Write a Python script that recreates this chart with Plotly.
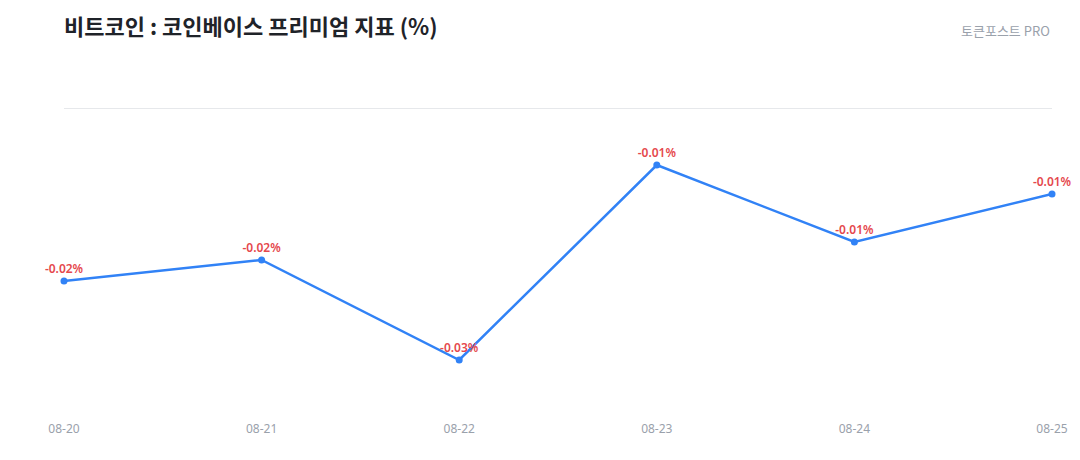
import plotly.graph_objects as go

# 코인베이스 프리미엄 (%) - 라벨은 소수 둘째 자리로 반올림되어 표시됨
dates = ["08-20", "08-21", "08-22", "08-23", "08-24", "08-25"]
premium = [-0.0173, -0.0152, -0.0252, -0.0057, -0.0134, -0.0086]

title_text = "비트코인 : 코인베이스 프리미엄 지표 (%)"
brand_text = "토큰포스트 PRO"

LINE = "#3182f6"
LABEL = "#e5484d"
MUTED = "#9aa1ab"
FONT = "Noto Sans, Noto Sans CJK KR, sans-serif"

fig = go.Figure()
fig.add_trace(go.Scatter(
    x=dates,
    y=premium,
    mode="lines+markers+text",
    line=dict(color=LINE, width=2.5),
    marker=dict(color=LINE, size=7),
    texttemplate="%{y:.2f}%",
    textposition="top center",
    textfont=dict(color=LABEL, size=12, family=FONT, weight=600),
    cliponaxis=False,
    hoverinfo="x+y",
))

fig.update_layout(
    width=1080,
    height=460,
    margin=dict(l=64, r=28, t=108, b=52),
    paper_bgcolor="white",
    plot_bgcolor="white",
    showlegend=False,
    font=dict(family=FONT, color=MUTED),
    title=dict(
        text=title_text,
        x=64 / 1080, xanchor="left",
        y=1 - 27 / 460, yanchor="middle",
        font=dict(size=22, color="#1f2329", family="Noto Sans CJK KR, sans-serif", weight="bold"),
    ),
    annotations=[dict(
        text=brand_text,
        xref="paper", yref="paper",
        x=1, xanchor="right",
        y=1 + 78 / 300, yanchor="middle",
        showarrow=False,
        font=dict(size=13, color=MUTED, family="Noto Sans CJK KR, sans-serif"),
    )],
)

fig.update_xaxes(
    type="category",
    range=[0, len(dates) - 1],
    showgrid=False,
    showline=False,
    zeroline=False,
    ticks="",
    ticklabelstandoff=12,
    tickfont=dict(size=12, color=MUTED),
)
fig.update_yaxes(
    range=[-0.03, 0],
    showgrid=False,
    zeroline=True,
    zerolinecolor="#e6e8eb",
    zerolinewidth=1,
    showticklabels=False,
    showline=False,
    ticks="",
)

fig.write_html(
    "out.html",
    config={"displayModeBar": False},
    post_script="document.body.style.margin='0';",
)
